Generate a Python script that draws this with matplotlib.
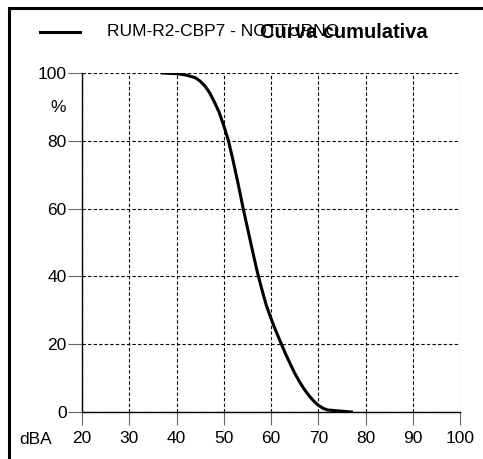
import matplotlib
matplotlib.use("Agg")
import matplotlib.pyplot as plt
from matplotlib.lines import Line2D
from matplotlib.patches import Rectangle

plt.rcParams["font.family"] = ["Liberation Sans", "DejaVu Sans"]

# -------------------------------------------------
# Data
# -------------------------------------------------

dba = [37, 40, 42, 44, 45, 46, 47, 48, 49, 50, 51, 52, 53, 54, 55, 56, 57,
       58, 59, 60, 61, 62, 63, 64, 65, 66, 67, 68, 69, 70, 71, 72, 77]
percent = [100, 99.8, 99.4, 98.6, 97.6, 96.2, 94.2, 91.5, 88.5, 84.5, 80,
           74, 67.6, 60.8, 54.4, 48.1, 41.9, 36.5, 31.5, 27.6, 24, 20.7,
           17.4, 14.4, 11.5, 9, 6.8, 4.9, 3.3, 2.0, 1.1, 0.6, 0]

x_ticks = [20, 30, 40, 50, 60, 70, 80, 90, 100]
y_ticks = [0, 20, 40, 60, 80, 100]

series_name = "RUM-R2-CBP7 - NOTTURNO"
title = "Curva cumulativa"

# -------------------------------------------------
# Figure
# -------------------------------------------------

W, H = 483, 459
fig = plt.figure(figsize=(W / 100, H / 100), dpi=100)
ax = fig.add_axes([82 / W, 1 - 412 / H, (460 - 82) / W, (412 - 73) / H])

line, = ax.plot(dba, percent, color="black", linewidth=2.2,
                solid_joinstyle="round", zorder=3)

ax.set_xlim(20, 100)
ax.set_ylim(0, 100)
ax.set_xticks(x_ticks)
ax.set_yticks(y_ticks)

ax.grid(True, color="black", linestyle=(0, (3, 2)), linewidth=0.8)

for side in ["top", "right"]:
    ax.spines[side].set_visible(False)
for side in ["left", "bottom"]:
    ax.spines[side].set_linewidth(1.0)
    ax.spines[side].set_color("black")

ax.tick_params(axis="y", length=10, width=0.8, color="#666666",
               pad=1, labelsize=12.5)
ax.tick_params(axis="x", length=9.5, width=0.8, color="#666666",
               pad=4, labelsize=12.5)

# axis unit labels
fig.text(58 / W, 1 - 107 / H, "%", ha="center", va="center", fontsize=12.5)
fig.text(36 / W, 1 - 439 / H, "dBA", ha="center", va="center", fontsize=12.5)

# legend
fig.lines.append(Line2D([40 / W, 80 / W], [1 - 32 / H, 1 - 32 / H],
                        transform=fig.transFigure, color="black",
                        linewidth=2.2))
fig.text(107 / W, 1 - 31 / H, series_name, ha="left", va="center",
         fontsize=12.5)

# title
fig.text(344 / W, 1 - 33 / H, title, ha="center", va="center",
         fontsize=14.5, fontweight="bold")

# outer frame (top and left edges visible)
fig.patches.append(Rectangle((9 / W, -0.1), 1.2, 1 - 8 / H + 0.1,
                             transform=fig.transFigure, fill=False,
                             edgecolor="black", linewidth=2.2))

fig.savefig("out.png", dpi=100)
